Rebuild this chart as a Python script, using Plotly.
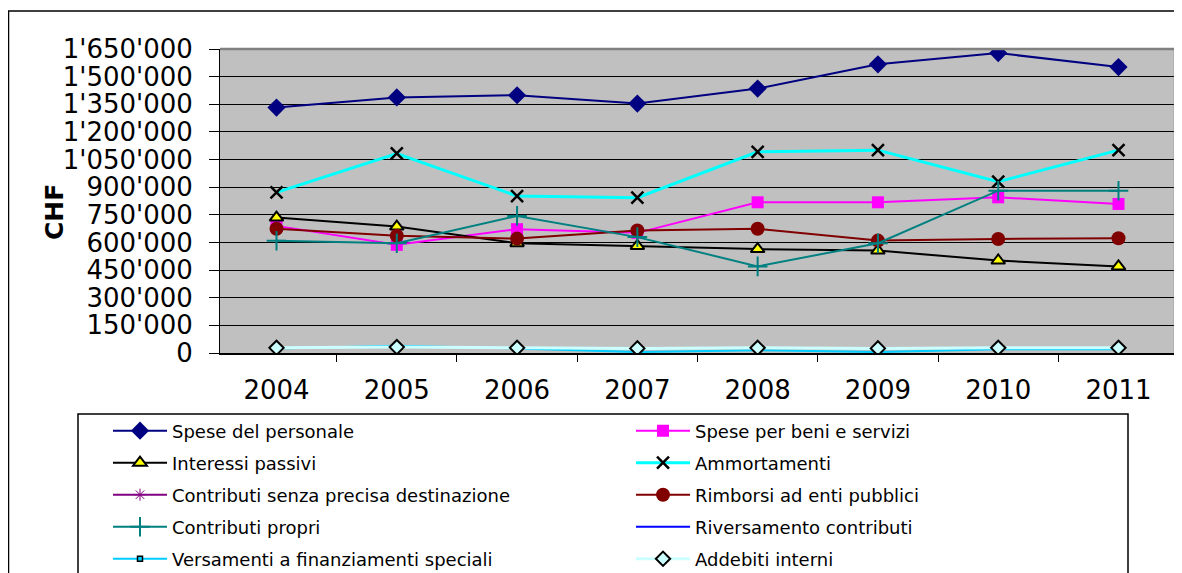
import plotly.graph_objects as go

years = ["2004", "2005", "2006", "2007", "2008", "2009", "2010", "2011"]

spese_personale = [1332000, 1387000, 1399000, 1354000, 1435000, 1567000, 1628000, 1552000]
spese_beni = [690000, 587000, 672000, 652000, 818000, 818000, 845000, 809000]
interessi = [735000, 686000, 596000, 581000, 564000, 556000, 502000, 470000]
ammortamenti = [872000, 1083000, 852000, 843000, 1092000, 1101000, 930000, 1101000]
contributi_senza = [None, None, None, None, None, None, None, None]
rimborsi = [674000, 636000, 621000, 665000, 674000, 610000, 619000, 623000]
contributi_propri = [609000, 596000, 744000, 629000, 470000, 596000, 881000, 881000]
riversamento = [None, None, None, None, None, None, None, None]
versamenti = [25000, 40000, 25000, 5000, 15000, 5000, 20000, 20000]
addebiti = [28000, 32000, 28000, 25000, 28000, 25000, 28000, 28000]

y_ticks = [0, 150000, 300000, 450000, 600000, 750000, 900000, 1050000, 1200000, 1350000, 1500000, 1650000]

FONT = "DejaVu Sans"

series = [
    ("Spese del personale", spese_personale, dict(color="#000080", width=2),
     dict(symbol="diamond", size=14, color="#000080")),
    ("Spese per beni e servizi", spese_beni, dict(color="#FF00FF", width=2),
     dict(symbol="square", size=12, color="#FF00FF")),
    ("Interessi passivi", interessi, dict(color="#000000", width=2),
     dict(symbol="triangle-up", size=12, color="#FFFF00", line=dict(color="#000000", width=2))),
    ("Ammortamenti", ammortamenti, dict(color="#00FFFF", width=3),
     dict(symbol="x-thin", size=12, color="#000000", line=dict(color="#000000", width=2.5))),
    ("Contributi senza precisa destinazione", contributi_senza, dict(color="#800080", width=2),
     dict(symbol="asterisk", size=10, color="#800080", line=dict(color="#800080", width=1))),
    ("Rimborsi ad enti pubblici", rimborsi, dict(color="#800000", width=2),
     dict(symbol="circle", size=14, color="#800000")),
    ("Contributi propri", contributi_propri, dict(color="#008080", width=2),
     dict(symbol="cross-thin", size=14, color="#008080", line=dict(color="#008080", width=2))),
    ("Riversamento contributi", riversamento, dict(color="#0000FF", width=2), None),
    ("Versamenti a finanziamenti speciali", versamenti, dict(color="#00CCFF", width=2),
     dict(symbol="square", size=5, color="#00CCFF", line=dict(color="#000000", width=1.5))),
    ("Addebiti interni", addebiti, dict(color="#CCFFFF", width=3),
     dict(symbol="diamond", size=11, color="#CCFFFF", line=dict(color="#000000", width=2))),
]

legend_ids = ["legend", "legend2", "legend3", "legend4", "legend5"]

fig = go.Figure()
for i, (name, vals, line, marker) in enumerate(series):
    lg = legend_ids[i // 2]
    if marker is None:
        fig.add_trace(go.Scatter(x=years, y=vals, name=name, mode="lines", line=line, legend=lg))
    else:
        fig.add_trace(go.Scatter(x=years, y=vals, name=name, mode="lines+markers",
                                 line=line, marker=marker, legend=lg))

# page body margin offset (8px) compensation: reference pixel coords -> figure coords
OFF = 8
W, H = 1174, 565
L, R, T, B = 212, 7, 41, 220
pw = W - L - R
ph = H - T - B

def px(xr):
    return (xr - OFF - L) / pw

def py(yr):
    return (H - B - (yr - OFF)) / ph

shapes = [
    # outer chart frame
    dict(type="rect", xref="paper", yref="paper", x0=px(8.5), x1=px(1220), y0=py(620), y1=py(11),
         line=dict(color="#000000", width=1.5), layer="below"),
    # legend frame
    dict(type="rect", xref="paper", yref="paper", x0=px(78), x1=px(1128), y0=py(620), y1=py(414),
         line=dict(color="#000000", width=1.5), fillcolor="white", layer="below"),
    # plot area border top / right
    dict(type="line", xref="paper", yref="paper", x0=0, x1=1, y0=1, y1=1,
         line=dict(color="#808080", width=2.5)),
    dict(type="line", xref="paper", yref="paper", x0=1, x1=1, y0=0, y1=1,
         line=dict(color="#808080", width=2.5)),
]

row_centers = [431, 463, 495, 527, 559]
legends = {}
for lid, yc in zip(legend_ids, row_centers):
    legends[lid] = dict(
        orientation="h",
        x=px(108), xanchor="left",
        y=py(yc), yanchor="middle",
        entrywidth=454, entrywidthmode="pixels",
        font=dict(family=FONT, size=18, color="#000000"),
        bgcolor="rgba(0,0,0,0)",
        borderwidth=0,
        itemwidth=54,
        traceorder="normal",
    )

fig.update_layout(
    width=W, height=H,
    margin=dict(l=L, r=R, t=T, b=B, autoexpand=False),
    paper_bgcolor="white",
    plot_bgcolor="#C0C0C0",
    separators=".'",
    font=dict(family=FONT, color="#000000"),
    showlegend=True,
    shapes=shapes,
    annotations=[
        dict(text="<b>CHF</b>", xref="paper", yref="paper", x=px(55), y=py(212),
             xanchor="center", yanchor="middle", textangle=-90, showarrow=False,
             font=dict(family=FONT, size=25, color="#000000")),
    ],
    **legends,
)

fig.update_xaxes(
    type="category",
    categoryorder="array", categoryarray=years,
    showgrid=False,
    showline=True, linecolor="#000000", linewidth=2,
    ticks="outside", tickson="boundaries", ticklen=7, tickcolor="#000000", tickwidth=1,
    tickfont=dict(family=FONT, size=26, color="#000000"),
    ticklabelstandoff=13,
    zeroline=False,
)
fig.update_yaxes(
    range=[0, 1650000],
    tickvals=y_ticks,
    tickformat=",d",
    showgrid=True, gridcolor="#000000", gridwidth=1,
    showline=True, linecolor="#000000", linewidth=1,
    ticks="outside", ticklen=10, tickcolor="#000000", tickwidth=1,
    tickfont=dict(family=FONT, size=26, color="#000000"),
    ticklabelstandoff=11,
    zeroline=False,
)

fig.write_html("out.html")
